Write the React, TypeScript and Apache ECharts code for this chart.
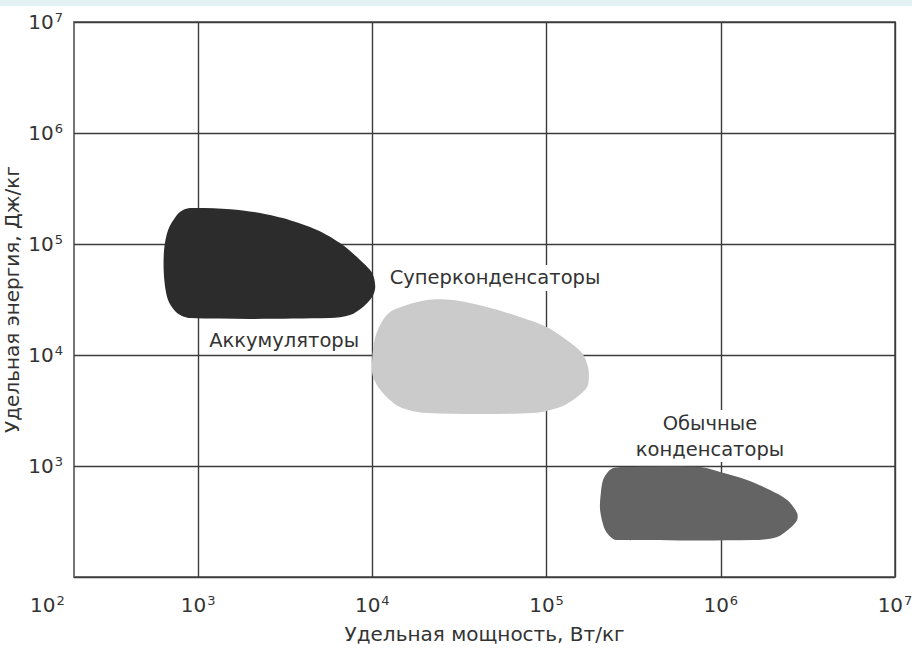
import React, { useEffect, useRef } from 'react';
import * as echarts from 'echarts';

// Axis exponents (log10 of W/kg and J/kg)
const X_TICK_EXPONENTS = [3, 4, 5, 6, 7];
const X_CORNER_EXPONENT = 2;
const Y_MIN_EXP = 2;
const Y_MAX_EXP = 7;
const X_MIN_EXP = 2.288; // left edge of the plot frame
const X_MAX_EXP = 7;

const xAxisName = 'Удельная мощность, Вт/кг';
const yAxisName = 'Удельная энергия, Дж/кг';

// Outlines of the regions: [specific power W/kg, specific energy J/kg]
const batteries: [number, number][] = [
  [820, 202000], [900, 211000], [1530, 206000], [2270, 190000], [3370, 164000],
  [4820, 134000], [6530, 102000], [8510, 71800], [9980, 54800], [10400, 41000],
  [9980, 33300], [8850, 27100], [7450, 22900], [5720, 21500], [900, 21500],
  [758, 23900], [673, 31300], [638, 50500], [638, 88300], [673, 134000], [758, 183000],
];

const supercapacitors: [number, number][] = [
  [13200, 25400], [20600, 31300], [29000, 31300], [45500, 27100], [70400, 22000],
  [100000, 17900], [131000, 13600], [160000, 10400], [173000, 7800], [175000, 6340],
  [171000, 5150], [150000, 4190], [120000, 3400], [83700, 3000], [20600, 3000],
  [14400, 3400], [11500, 4550], [10100, 6340], [9980, 9020], [10400, 14500], [11500, 20600],
];

const capacitors: [number, number][] = [
  [225000, 883], [241000, 960], [275000, 979], [760000, 979], [991000, 883],
  [1415000, 748], [1918000, 608], [2404000, 494], [2742000, 378], [2742000, 327],
  [2500000, 276], [2106000, 229], [1534000, 215], [264000, 215], [241000, 220],
  [217000, 265], [203000, 402], [205000, 571], [211000, 748],
];

const regionNames = ['Аккумуляторы', 'Суперконденсаторы', 'Обычные\nконденсаторы'];
const labelPositions: [number, number][] = [
  [3120, 13400],
  [50600, 49400],
  [867000, 1860],
];

const regionColors = ['#2c2c2c', '#cbcbcb', '#646464'];
const FONT = "'DejaVu Sans', 'Liberation Sans', Arial, sans-serif";
const TEXT_COLOR = '#333333';

const toLog = (p: [number, number]) => [Math.log10(p[0]), Math.log10(p[1])];

const axisRich = {
  b: { fontSize: 20, lineHeight: 22, fontFamily: FONT, color: TEXT_COLOR },
  s: { fontSize: 13, lineHeight: 13, verticalAlign: 'top', fontFamily: FONT, color: TEXT_COLOR, padding: [0, 0, 0, 1] },
};
const graphicRich = {
  b: { fontSize: 20, lineHeight: 22, fontFamily: FONT, fill: TEXT_COLOR },
  s: { fontSize: 13, lineHeight: 13, verticalAlign: 'top', fontFamily: FONT, fill: TEXT_COLOR, padding: [0, 0, 0, 1] },
};

export default function App() {
  const ref = useRef<HTMLDivElement>(null);

  useEffect(() => {
    if (!ref.current) return;
    const chart = echarts.init(ref.current, undefined, { renderer: 'svg' });

    const outlines = [batteries, supercapacitors, capacitors];

    const shapeSeries = outlines.map((outline, i) => ({
      type: 'custom',
      silent: true,
      z: 3,
      data: outline.map(toLog),
      encode: { x: 0, y: 1 },
      renderItem: (params: any, api: any) => {
        if (params.dataIndex !== 0) return null;
        return {
          type: 'polygon',
          shape: {
            points: outline.map((p) => api.coord(toLog(p))),
            smooth: 0.3,
          },
          style: { fill: regionColors[i], stroke: null },
        };
      },
    }));

    const labelSeries = {
      type: 'custom',
      silent: true,
      z: 5,
      data: labelPositions.map((p, i) => [...toLog(p), i]),
      encode: { x: 0, y: 1 },
      renderItem: (params: any, api: any) => {
        const pt = api.coord([api.value(0), api.value(1)]);
        const idx = api.value(2);
        return {
          type: 'text',
          x: pt[0],
          y: pt[1],
          style: {
            text: regionNames[idx],
            fill: TEXT_COLOR,
            fontSize: 19.5,
            fontFamily: FONT,
            align: 'center',
            verticalAlign: 'middle',
            lineHeight: 26,
            backgroundColor: '#ffffff',
            padding: [0, 2],
          },
        };
      },
    };

    chart.setOption({
      animation: false,
      backgroundColor: '#ffffff',
      grid: {
        left: 74,
        right: 17,
        top: 22,
        bottom: 72,
        outerBoundsMode: 'none',
        containLabel: false,
        show: true,
        borderColor: '#767676',
        borderWidth: 2,
        backgroundColor: 'transparent',
      },
      graphic: [
        {
          type: 'rect',
          left: 0,
          top: 0,
          shape: { width: 912, height: 6 },
          style: { fill: '#e2f1f1' },
          z: 10,
        },
        {
          type: 'text',
          left: 30,
          top: 594,
          style: {
            text: `{b|10}{s|${X_CORNER_EXPONENT}}`,
            rich: graphicRich,
          },
        },
      ],
      xAxis: {
        type: 'value',
        min: X_MIN_EXP,
        max: X_MAX_EXP,
        name: xAxisName,
        nameLocation: 'middle',
        nameGap: 47,
        nameMoveOverlap: false,
        nameTextStyle: { fontSize: 20, fontFamily: FONT, color: TEXT_COLOR },
        axisLine: { show: false },
        axisTick: { show: false, customValues: X_TICK_EXPONENTS },
        axisLabel: {
          customValues: X_TICK_EXPONENTS,
          margin: 17,
          fontSize: 20,
          fontFamily: FONT,
          color: TEXT_COLOR,
          formatter: (v: number) => `{b|10}{s|${Math.round(v)}}`,
          rich: axisRich,
        },
        splitLine: { show: true, lineStyle: { color: '#3c3c3c', width: 1.4 } },
      },
      yAxis: {
        type: 'value',
        min: Y_MIN_EXP,
        max: Y_MAX_EXP,
        interval: 1,
        name: yAxisName,
        nameLocation: 'middle',
        nameGap: 52,
        nameMoveOverlap: false,
        nameTextStyle: { fontSize: 20, fontFamily: FONT, color: TEXT_COLOR },
        axisLine: { show: false },
        axisTick: { show: false },
        axisLabel: {
          margin: 11,
          fontSize: 20,
          fontFamily: FONT,
          color: TEXT_COLOR,
          formatter: (v: number) => (v === Y_MIN_EXP ? '' : `{b|10}{s|${Math.round(v)}}`),
          rich: axisRich,
        },
        splitLine: { show: true, lineStyle: { color: '#3c3c3c', width: 1.4 } },
      },
      series: [...shapeSeries, labelSeries],
    });

    return () => chart.dispose();
  }, []);

  return (
    <div
      ref={ref}
      style={{ position: 'fixed', left: 0, top: 0, width: 912, height: 649, background: '#fff' }}
    />
  );
}
